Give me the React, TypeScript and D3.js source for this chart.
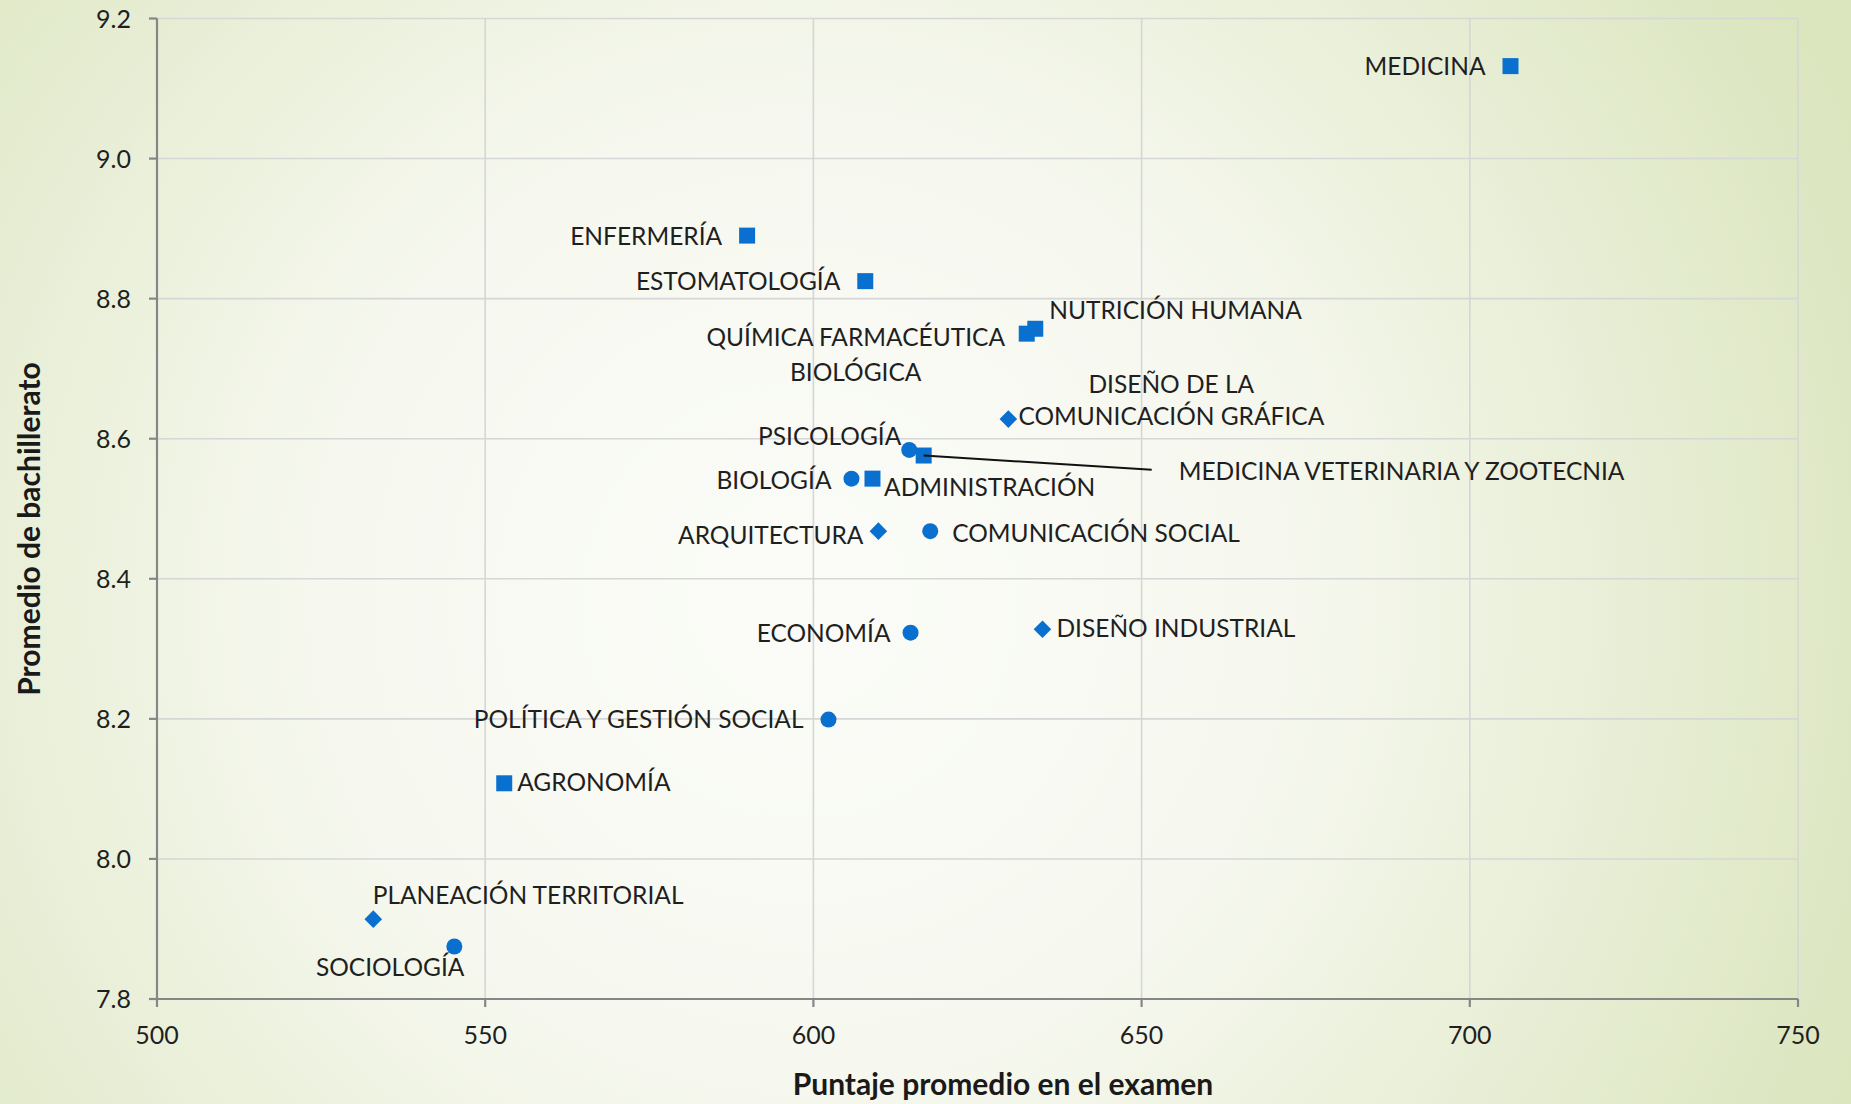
import React from "react";
import * as d3 from "d3";

// ---- data ----
const careers = [
  "MEDICINA",
  "ENFERMERÍA",
  "ESTOMATOLOGÍA",
  "QUÍMICA FARMACÉUTICA BIOLÓGICA",
  "NUTRICIÓN HUMANA",
  "DISEÑO DE LA COMUNICACIÓN GRÁFICA",
  "PSICOLOGÍA",
  "MEDICINA VETERINARIA Y ZOOTECNIA",
  "BIOLOGÍA",
  "ADMINISTRACIÓN",
  "ARQUITECTURA",
  "COMUNICACIÓN SOCIAL",
  "ECONOMÍA",
  "DISEÑO INDUSTRIAL",
  "POLÍTICA Y GESTIÓN SOCIAL",
  "AGRONOMÍA",
  "PLANEACIÓN TERRITORIAL",
  "SOCIOLOGÍA",
];
const puntaje = [706.2, 589.9, 607.9, 632.5, 633.8, 629.7, 614.6, 616.8, 605.8, 609.0, 609.9, 617.8, 614.8, 634.9, 602.3, 552.9, 532.95, 545.3];
const promedio = [9.132, 8.89, 8.825, 8.75, 8.757, 8.628, 8.584, 8.576, 8.543, 8.543, 8.468, 8.468, 8.323, 8.328, 8.199, 8.108, 7.914, 7.875];
const markerKind = ["square", "square", "square", "square", "square", "diamond", "circle", "square", "circle", "square", "diamond", "circle", "circle", "diamond", "circle", "square", "diamond", "circle"];

const xTicks = [500, 550, 600, 650, 700, 750];
const yTicks = [7.8, 8.0, 8.2, 8.4, 8.6, 8.8, 9.0, 9.2];
const xTitle = "Puntaje promedio en el examen";
const yTitle = "Promedio de bachillerato";

// ---- layout (label placement relative to marker) ----
type LabelLayout = { lines: string[]; anchor: "start" | "middle" | "end"; dx: number; dy: number[] };
const labelLayout: LabelLayout[] = [
  { lines: ["MEDICINA"], anchor: "end", dx: -25, dy: [0] },
  { lines: ["ENFERMERÍA"], anchor: "end", dx: -25, dy: [0.7] },
  { lines: ["ESTOMATOLOGÍA"], anchor: "end", dx: -25, dy: [0] },
  { lines: ["QUÍMICA FARMACÉUTICA", "BIOLÓGICA"], anchor: "middle", dx: -171, dy: [3.4, 38.4] },
  { lines: ["NUTRICIÓN HUMANA"], anchor: "start", dx: 14, dy: [-19] },
  { lines: ["DISEÑO DE LA", "COMUNICACIÓN GRÁFICA"], anchor: "middle", dx: 163, dy: [-35.3, -2.6] },
  { lines: ["PSICOLOGÍA"], anchor: "end", dx: -8, dy: [-14] },
  { lines: ["MEDICINA VETERINARIA Y ZOOTECNIA"], anchor: "start", dx: 255, dy: [16] },
  { lines: ["BIOLOGÍA"], anchor: "end", dx: -20, dy: [1.7] },
  { lines: ["ADMINISTRACIÓN"], anchor: "start", dx: 11.6, dy: [8.4] },
  { lines: ["ARQUITECTURA"], anchor: "end", dx: -15, dy: [4.3] },
  { lines: ["COMUNICACIÓN SOCIAL"], anchor: "start", dx: 22, dy: [2] },
  { lines: ["ECONOMÍA"], anchor: "end", dx: -20, dy: [0] },
  { lines: ["DISEÑO INDUSTRIAL"], anchor: "start", dx: 14, dy: [-1] },
  { lines: ["POLÍTICA Y GESTIÓN SOCIAL"], anchor: "end", dx: -25, dy: [0] },
  { lines: ["AGRONOMÍA"], anchor: "start", dx: 13, dy: [-1] },
  { lines: ["PLANEACIÓN TERRITORIAL"], anchor: "start", dx: -0.6, dy: [-24] },
  { lines: ["SOCIOLOGÍA"], anchor: "end", dx: 10, dy: [21] },
];
// leader line for MVZ (index 7)
const leaderIndex = 7;
const leaderEnd = { dx: 228, dy: 14.3 };

const W = 1851;
const H = 1104;
const plot = { left: 157, right: 1798, top: 18.5, bottom: 999 };
const FONT = "Lato, 'Open Sans', sans-serif";
const FS = 25;
const LFS = 24.5;
const TFS = 30;
const BLUE = "#0a70d0";

export default function App() {
  const x = d3.scaleLinear().domain([500, 750]).range([plot.left, plot.right]);
  const y = d3.scaleLinear().domain([7.8, 9.2]).range([plot.bottom, plot.top]);

  const sq = d3.symbol().type(d3.symbolSquare).size(256)() as string;
  const circ = d3.symbol().type(d3.symbolCircle).size(Math.PI * 8 * 8)() as string;
  const dia = d3.symbol().type(d3.symbolSquare).size(155)() as string;

  const capShift = FS * 0.36;
  const lCap = LFS * 0.36;
  const tCap = TFS * 0.36;

  return (
    <svg width={W} height={H} style={{ position: "absolute", left: 0, top: 0 }} xmlns="http://www.w3.org/2000/svg">
      <defs>
        <radialGradient id="bg" gradientUnits="userSpaceOnUse" cx={800} cy={600} r={1150}>
          <stop offset="0" stopColor="#fbfcf8" />
          <stop offset="0.42" stopColor="#f6f8ef" />
          <stop offset="1" stopColor="#dbe5be" />
        </radialGradient>
      </defs>
      <rect x={0} y={0} width={W} height={H} fill="url(#bg)" />

      {/* gridlines */}
      {xTicks.slice(1).map((t) => (
        <line key={"gx" + t} x1={x(t)} x2={x(t)} y1={plot.top} y2={plot.bottom} stroke="#d6d6d6" strokeWidth={1.6} />
      ))}
      {yTicks.slice(1).map((t) => (
        <line key={"gy" + t} x1={plot.left} x2={plot.right} y1={y(t)} y2={y(t)} stroke="#d6d6d6" strokeWidth={1.6} />
      ))}

      {/* axes */}
      <line x1={plot.left} x2={plot.left} y1={plot.top} y2={plot.bottom} stroke="#868686" strokeWidth={2.2} />
      <line x1={plot.left} x2={plot.right} y1={plot.bottom} y2={plot.bottom} stroke="#868686" strokeWidth={2.2} />
      {yTicks.map((t) => (
        <g key={"ty" + t}>
          <line x1={plot.left - 8} x2={plot.left} y1={y(t)} y2={y(t)} stroke="#868686" strokeWidth={2.2} />
          <text x={131} y={y(t) + capShift} textAnchor="end" fontFamily={FONT} fontSize={FS} fill="#1f1f1f">
            {d3.format(".1f")(t)}
          </text>
        </g>
      ))}
      {xTicks.map((t) => (
        <g key={"tx" + t}>
          <line x1={x(t)} x2={x(t)} y1={plot.bottom} y2={plot.bottom + 8} stroke="#868686" strokeWidth={2.2} />
          <text x={x(t)} y={1035 + capShift} textAnchor="middle" fontFamily={FONT} fontSize={FS} fill="#1f1f1f">
            {t}
          </text>
        </g>
      ))}

      {/* axis titles */}
      <text x={1003} y={1084 + tCap} textAnchor="middle" fontFamily={FONT} fontWeight={700} fontSize={TFS} fill="#1a1a1a">
        {xTitle}
      </text>
      <text
        transform={`translate(${29 + tCap},529) rotate(-90)`}
        textAnchor="middle"
        fontFamily={FONT}
        fontWeight={700}
        fontSize={TFS}
        fill="#1a1a1a"
      >
        {yTitle}
      </text>

      {/* markers */}
      {careers.map((c, i) => {
        const px = x(puntaje[i]);
        const py = y(promedio[i]);
        const k = markerKind[i];
        const d = k === "square" ? sq : k === "circle" ? circ : dia;
        const rot = k === "diamond" ? " rotate(45)" : "";
        return <path key={"m" + c} d={d} transform={`translate(${px},${py})${rot}`} fill={BLUE} />;
      })}

      {/* leader line */}
      <line
        x1={x(puntaje[leaderIndex])}
        y1={y(promedio[leaderIndex])}
        x2={x(puntaje[leaderIndex]) + leaderEnd.dx}
        y2={y(promedio[leaderIndex]) + leaderEnd.dy}
        stroke="#111"
        strokeWidth={2}
      />

      {/* labels */}
      {careers.map((c, i) => {
        const px = x(puntaje[i]);
        const py = y(promedio[i]);
        const L = labelLayout[i];
        return (
          <text key={"l" + c} fontFamily={FONT} fontSize={LFS} fill="#1f1f1f" textAnchor={L.anchor}>
            {L.lines.map((ln, j) => (
              <tspan key={j} x={px + L.dx} y={py + L.dy[j] + lCap}>
                {ln}
              </tspan>
            ))}
          </text>
        );
      })}
    </svg>
  );
}
